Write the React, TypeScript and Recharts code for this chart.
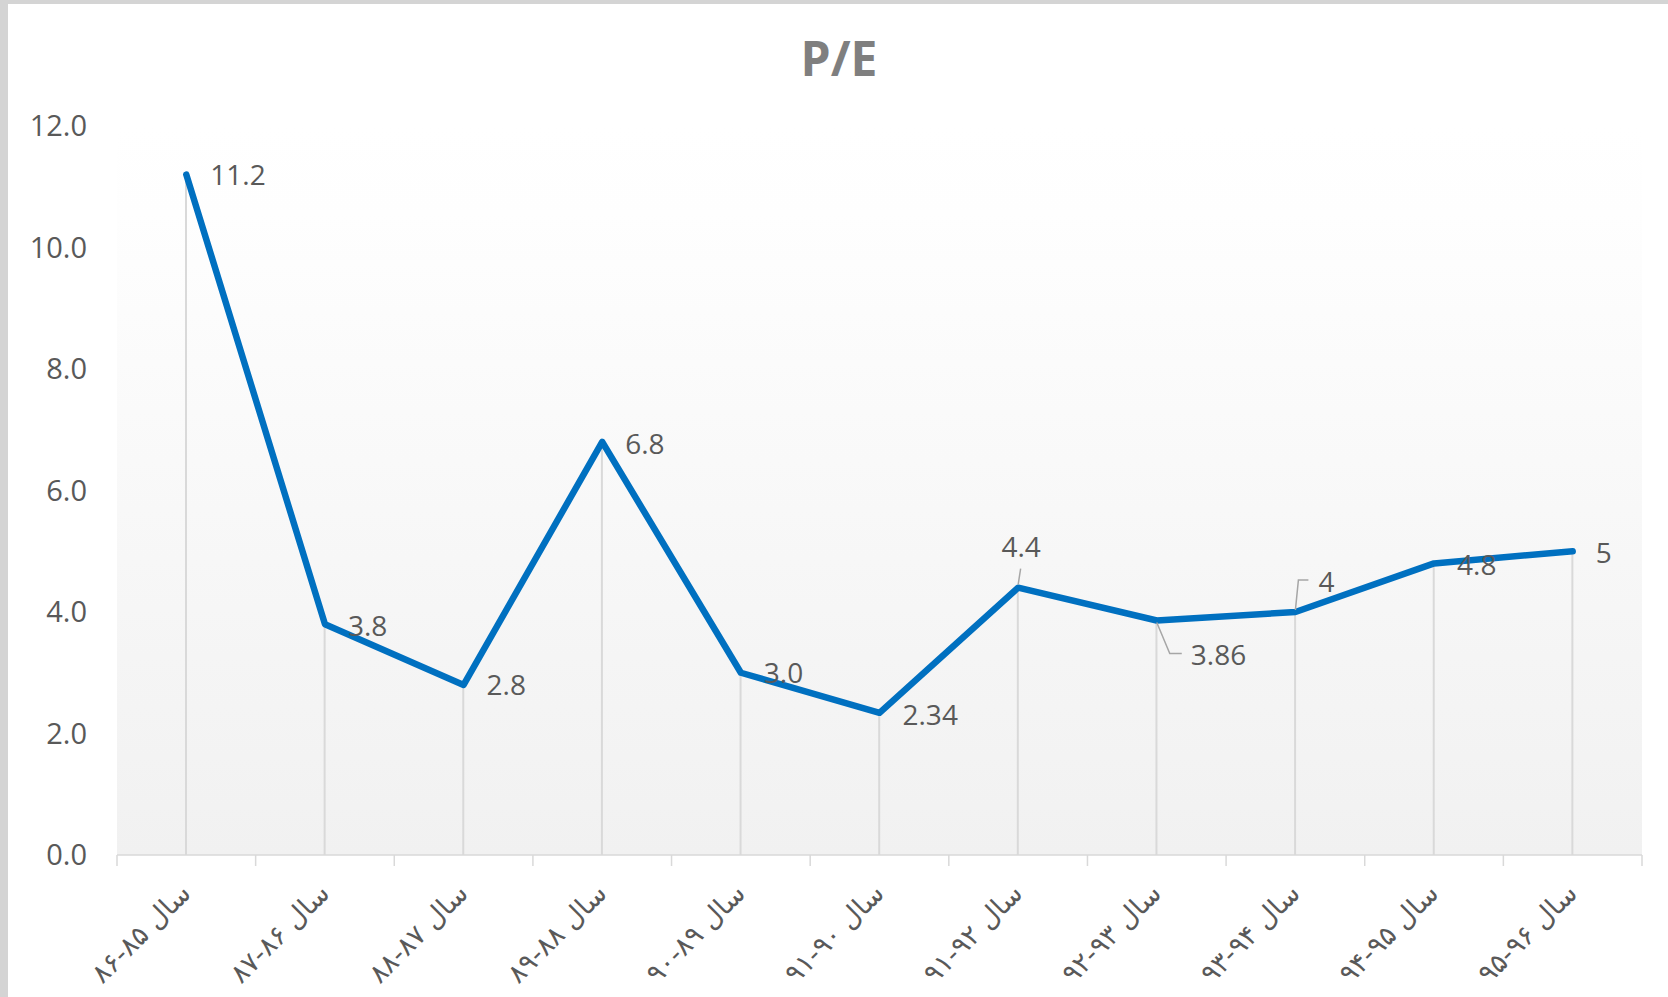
import React from 'react';
import { ComposedChart, Line, Bar, XAxis, YAxis, CartesianGrid } from 'recharts';

// P/E by fiscal year (Excel-like line chart)
const categories = [
  'سال ۸۵-۸۶',
  'سال ۸۶-۸۷',
  'سال ۸۷-۸۸',
  'سال ۸۸-۸۹',
  'سال ۸۹-۹۰',
  'سال ۹۰-۹۱',
  'سال ۹۲-۹۱',
  'سال ۹۳-۹۲',
  'سال ۹۴-۹۳',
  'سال ۹۵-۹۴',
  'سال ۹۶-۹۵',
];
const peValues = [11.2, 3.8, 2.8, 6.8, 3.0, 2.34, 4.4, 3.86, 4, 4.8, 5];
const peLabels = ['11.2', '3.8', '2.8', '6.8', '3.0', '2.34', '4.4', '3.86', '4', '4.8', '5'];
const yTicks = [0, 2, 4, 6, 8, 10, 12];

const data = categories.map((name, i) => ({ name, value: peValues[i], label: peLabels[i] }));

const W = 1668;
const H = 997;
const PLOT_LEFT = 117;
const PLOT_RIGHT = 1642;
const BAND = (PLOT_RIGHT - PLOT_LEFT) / categories.length;
const TEXT = '#595959';
const FONT = "'Open Sans', 'DejaVu Sans', sans-serif";

// where Excel put each data label, relative to its point
type Place = { dx: number; dy: number; anchor?: 'start' | 'middle'; leader?: number[][] };
const labelPlace: Place[] = [
  { dx: 24, dy: 0 },
  { dx: 23, dy: 2 },
  { dx: 23, dy: 0 },
  { dx: 23, dy: 2 },
  { dx: 23, dy: 0 },
  { dx: 23, dy: 2 },
  { dx: 3, dy: -41, anchor: 'middle', leader: [[0, -3], [2.5, -19]] },
  { dx: 34, dy: 34, leader: [[0, 2], [13, 33], [25, 33]] },
  { dx: 23, dy: -30, leader: [[0, -2], [3, -32], [13, -32]] },
  { dx: 23, dy: 2 },
  { dx: 23, dy: 2 },
];

const renderLabel = (props: any) => {
  const { cx, cy, index } = props;
  const p = labelPlace[index] || { dx: 23, dy: 0 };
  const pts = p.leader;
  return (
    <g key={`lbl-${index}`}>
      {pts && (
        <polyline
          points={pts.map(([a, b]) => `${cx + a},${cy + b}`).join(' ')}
          fill="none"
          stroke="#a6a6a6"
          strokeWidth={1.5}
        />
      )}
      <text
        x={cx + p.dx}
        y={cy + p.dy + 10}
        textAnchor={p.anchor || 'start'}
        fill={TEXT}
        fontSize={28}
        fontFamily={FONT}
      >
        {data[index].label}
      </text>
    </g>
  );
};

const XTick = (props: any) => {
  const { x, y, payload, index } = props;
  const last = index === categories.length - 1;
  const ax = x + 6;
  const ay = y + 40;
  return (
    <g>
      <line x1={x - BAND / 2} x2={x - BAND / 2} y1={y} y2={y + 11} stroke="#d9d9d9" strokeWidth={1.5} />
      {last && <line x1={x + BAND / 2} x2={x + BAND / 2} y1={y} y2={y + 11} stroke="#d9d9d9" strokeWidth={1.5} />}
      <text
        x={ax}
        y={ay}
        transform={`rotate(-45, ${ax}, ${ay})`}
        textAnchor="end"
        fill={TEXT}
        fontSize={27}
        fontFamily="'DejaVu Sans', sans-serif"
      >
        {payload.value}
      </text>
    </g>
  );
};

export default function App() {
  return (
    <div style={{ position: 'absolute', left: 0, top: 0, width: W, height: H, background: '#d4d4d4' }}>
      <div
        style={{
          position: 'absolute',
          left: 8,
          top: 4,
          width: W - 8,
          height: H - 4,
          background: '#ffffff',
        }}
      />
      <div
        style={{
          position: 'absolute',
          left: 0,
          top: 29,
          width: 1678,
          textAlign: 'center',
          fontFamily: FONT,
          fontWeight: 700,
          fontSize: 48,
          lineHeight: '58px',
          color: '#7f7f7f',
        }}
      >
        P/E
      </div>
      <div style={{ position: 'absolute', left: 0, top: 0 }}>
        <ComposedChart
          width={W}
          height={H}
          data={data}
          margin={{ top: 126, right: W - PLOT_RIGHT, bottom: 0, left: 0 }}
        >
          <defs>
            <linearGradient id="plotBg" x1="0" y1="0" x2="0" y2="1">
              <stop offset="0" stopColor="#ffffff" />
              <stop offset="0.12" stopColor="#fefefe" />
              <stop offset="1" stopColor="#f1f1f1" />
            </linearGradient>
          </defs>
          <CartesianGrid horizontal={false} vertical={false} fill="url(#plotBg)" />
          <XAxis
            dataKey="name"
            height={142}
            tickLine={false}
            tickSize={0}
            tickMargin={0}
            interval={0}
            axisLine={{ stroke: '#d9d9d9', strokeWidth: 1.5 }}
            tick={<XTick />}
          />
          <YAxis
            width={PLOT_LEFT}
            domain={[0, 12]}
            ticks={yTicks}
            interval={0}
            axisLine={false}
            tickLine={false}
            tickMargin={24}
            tickFormatter={(v: number) => v.toFixed(1)}
            tick={{ fill: TEXT, fontSize: 29, fontFamily: FONT }}
          />
          <Bar dataKey="value" barSize={2} fill="#d9d9d9" isAnimationActive={false} />
          <Line
            type="linear"
            dataKey="value"
            stroke="#0070c0"
            strokeWidth={6.5}
            strokeLinecap="round"
            strokeLinejoin="round"
            dot={renderLabel}
            activeDot={false}
            isAnimationActive={false}
          />
        </ComposedChart>
      </div>
    </div>
  );
}
